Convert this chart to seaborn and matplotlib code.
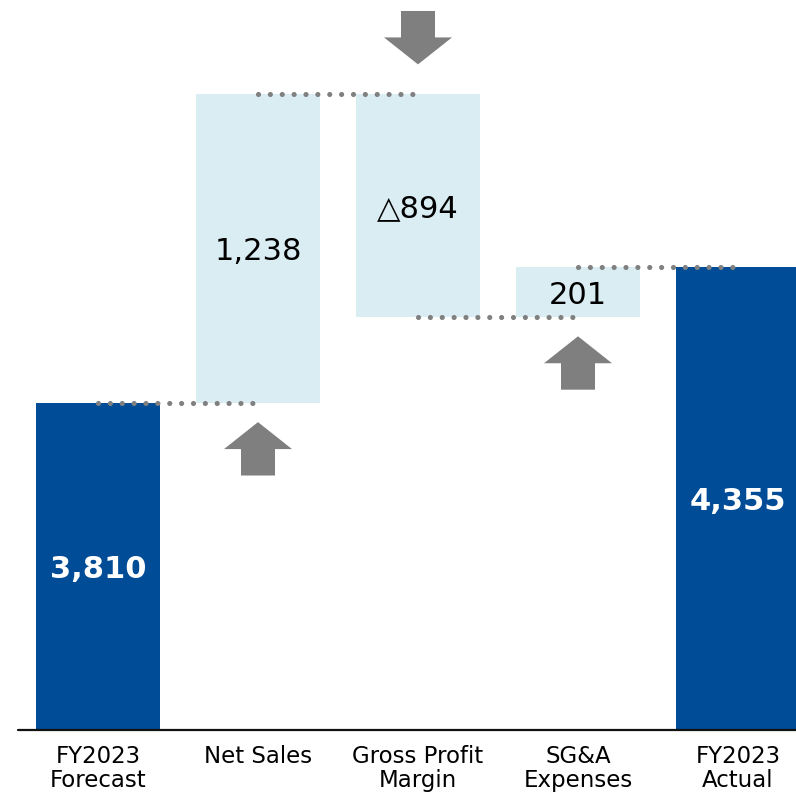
import numpy as np
import pandas as pd
import seaborn as sns
import matplotlib.pyplot as plt

# chart values
categories = ["FY2023\nForecast", "Net Sales", "Gross Profit\nMargin", "SG&A\nExpenses", "FY2023\nActual"]
forecast = 3810
deltas = [1238, -894, 201]
actual = 4355
value_labels = ["3,810", "1,238", "△894", "201", "4,355"]

dark_blue = "#004C97"
light_blue = "#DAEDF3"
gray = "#7F7F7F"

# build floating bar tops / bottoms from the running total
running = [forecast]
for d in deltas:
    running.append(running[-1] + d)
tops = [forecast]
bottoms = [0]
for i, d in enumerate(deltas):
    tops.append(max(running[i], running[i + 1]))
    bottoms.append(min(running[i], running[i + 1]))
tops.append(actual)
bottoms.append(0)

df = pd.DataFrame({"cat": categories, "top": tops, "bottom": bottoms})
colors = [dark_blue, light_blue, light_blue, light_blue, dark_blue]

sns.set_style("white")
fig = plt.figure(figsize=(7.96, 7.93), dpi=100)
ax = fig.add_axes([0, 63 / 793, 1, 730 / 793])

sns.barplot(data=df, x="cat", y="top", hue="cat", palette=colors, legend=False,
            width=0.775, linewidth=0, saturation=1, ax=ax, order=categories)
floats = df.iloc[1:4]
sns.barplot(data=floats, x="cat", y="bottom", color="white", width=0.775,
            linewidth=0, saturation=1, ax=ax, order=categories)

ax.set_ylim(2500, 5426)
ax.set_xlim(-0.6125, 4.3625)

# value labels in the middle of each bar
for i, lab in enumerate(value_labels):
    lo = max(bottoms[i], 2500)
    mid = (lo + tops[i]) / 2
    if i in (0, 4):
        ax.text(i, mid, lab, ha="center", va="center_baseline", fontsize=22,
                fontweight="bold", color="white")
    else:
        ax.text(i, mid, lab, ha="center", va="center_baseline", fontsize=22, color="black")

# dotted connectors
for i in range(4):
    ax.plot([i, i + 0.97], [running[i], running[i]], color="#808080", lw=3.7,
            linestyle=(0, (0.01, 2.3)), dash_capstyle="round", zorder=5)

# arrows
for i, d in enumerate(deltas):
    x = i + 1
    if d > 0:
        tip = bottoms[x] - 76
        ax.arrow(x, tip - 214, 0, 214, width=0.2125, head_width=0.425, head_length=108,
                 length_includes_head=True, color=gray, lw=0, zorder=4)
    else:
        tip = tops[x] + 120
        ax.arrow(x, tip + 214, 0, -214, width=0.2125, head_width=0.425, head_length=108,
                 length_includes_head=True, color=gray, lw=0, zorder=4)

# baseline
ax.plot([-0.5, 4.3625], [2500, 2500], color="#111111", lw=1.6, clip_on=False, zorder=6)

sns.despine(ax=ax, left=True, bottom=True)
ax.set_xlabel("")
ax.set_ylabel("")
ax.set_yticks([])
ax.tick_params(axis="x", length=0, pad=11)
ax.set_xticks(range(5))
ax.set_xticklabels(categories, fontsize=16.5, color="black", linespacing=1.05)

fig.savefig("out.png", dpi=100)
